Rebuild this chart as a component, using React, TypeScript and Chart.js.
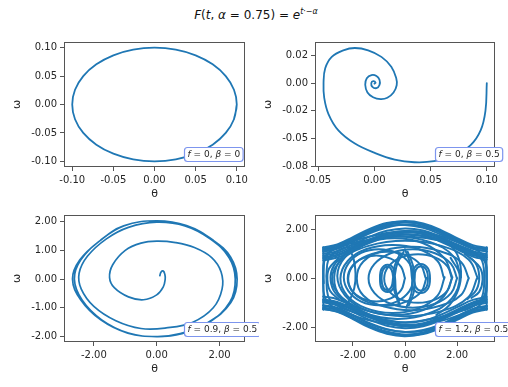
import React, { useEffect, useRef } from "react";
import { Chart, registerables } from "chart.js";

Chart.register(...registerables);

const FONT = '"DejaVu Sans", "Liberation Sans", sans-serif';
const LINE_BLUE = "#1f77b4";
const SPINE = "#555555";
const TEXT = "#262626";
const LABEL_EDGE = "#7d95ee";

// ---------- Panel 1: f = 0, beta = 0 (theta, omega) ----------
const P1_PATH: number[][] = [
  [0.1, 0], [0.0966, -0.0259], [0.0866, -0.05], [0.0707, -0.0707], [0.05, -0.0866], [0.0259, -0.0966],
  [0, -0.1], [-0.0259, -0.0966], [-0.05, -0.0866], [-0.0707, -0.0707], [-0.0866, -0.05], [-0.0966, -0.0259],
  [-0.1, 0], [-0.0966, 0.0259], [-0.0866, 0.05], [-0.0707, 0.0707], [-0.05, 0.0866], [-0.0259, 0.0966],
  [0, 0.1], [0.0259, 0.0966], [0.05, 0.0866], [0.0707, 0.0707], [0.0866, 0.05], [0.0966, 0.0259], [0.1, 0],
  [0.0966, -0.0259],
];
const P1_X_TICKS = [-0.1, -0.05, 0, 0.05, 0.1];
const P1_X_LABELS = ["-0.10", "-0.05", "0.00", "0.05", "0.10"];
const P1_Y_TICKS = [-0.1, -0.05, 0, 0.05, 0.1];
const P1_Y_LABELS = ["-0.10", "-0.05", "0.00", "0.05", "0.10"];

// ---------- Panel 2: f = 0, beta = 0.5 ----------
const P2_PATH: number[][] = [
  [0.1, 0], [0.0988, -0.025], [0.0945, -0.0427], [0.0856, -0.056], [0.0709, -0.0657], [0.053, -0.0705],
  [0.0356, -0.0714], [0.018, -0.069], [0.0003, -0.063], [-0.0174, -0.0546], [-0.0321, -0.0427],
  [-0.0409, -0.028], [-0.0447, -0.0133], [-0.0453, 0], [-0.0438, 0.0133], [-0.038, 0.0236],
  [-0.0277, 0.0295], [-0.0174, 0.0316], [-0.0056, 0.0295], [0.0062, 0.0236], [0.015, 0.0147],
  [0.0194, 0.0044], [0.0198, -0.002], [0.017, -0.0085], [0.0115, -0.0133], [0.0055, -0.0145],
  [-0.0012, -0.0128], [-0.0062, -0.0085], [-0.0082, -0.0015], [-0.0068, 0.0044], [-0.0026, 0.0072],
  [0.0018, 0.0064], [0.0045, 0.003], [0.0045, -0.0018], [0.0018, -0.0046], [-0.0018, -0.0034],
  [-0.0028, 0], [-0.001, 0.0018], [0.001, 0.0004], [0, -0.0006],
];
const P2_X_TICKS = [-0.05, 0, 0.05, 0.1];
const P2_X_LABELS = ["-0.05", "0.00", "0.05", "0.10"];
const P2_Y_TICKS = [-0.075, -0.05, -0.025, 0, 0.025];
const P2_Y_LABELS = ["-0.08", "-0.05", "-0.02", "0.00", "0.02"];

// ---------- Panel 3: f = 0.9, beta = 0.5 ----------
const P3_PATH: number[][] = [
  [0.1, 0.12], [0.14, 0.25], [0.21, 0.28], [0.26, 0.16], [0.27, 0.0], [0.21, -0.27], [0.0, -0.55],
  [-0.42, -0.72], [-0.9, -0.62], [-1.35, -0.3], [-1.5, 0.05], [-1.4, 0.5], [-1.0, 1.0], [-0.5, 1.25],
  [0.0, 1.32], [0.6, 1.27], [1.2, 1.1], [1.75, 0.75], [2.05, 0.25], [2.08, -0.35], [1.8, -1.0],
  [1.15, -1.5], [0.3, -1.7], [-0.5, -1.72], [-1.3, -1.45], [-2.0, -0.95], [-2.4, -0.35], [-2.47, 0.2],
  [-2.2, 0.8], [-1.6, 1.4], [-0.9, 1.8], [0.0, 1.98], [0.9, 1.85], [1.7, 1.4], [2.3, 0.75], [2.5, 0.0],
  [2.33, -0.8], [1.65, -1.52], [0.8, -1.9], [0.0, -2.0], [-0.9, -1.88], [-1.75, -1.42], [-2.38, -0.72],
  [-2.62, 0.0], [-2.42, 0.66], [-1.8, 1.34], [-1.05, 1.85], [0.0, 2.03], [0.95, 1.86], [1.8, 1.35],
  [2.35, 0.77], [2.56, 0.0], [2.36, -0.82], [1.62, -1.52], [0.75, -1.9], [0.0, -2.0], [-0.92, -1.88],
  [-1.78, -1.42], [-2.42, -0.72], [-2.68, 0.0], [-2.45, 0.66], [-1.8, 1.34], [-1.05, 1.85], [0.0, 2.03],
  [0.95, 1.86], [1.8, 1.35], [2.35, 0.77], [2.56, 0.0],
];
const P3_X_TICKS = [-2, 0, 2];
const P3_X_LABELS = ["-2.00", "0.00", "2.00"];
const P3_Y_TICKS = [-2, -1, 0, 1, 2];
const P3_Y_LABELS = ["-2.00", "-1.00", "0.00", "1.00", "2.00"];

// ---------- Panel 4: f = 1.2, beta = 0.5 ----------
const P4_ARC_THETA = [-3.14, -2.6, -2.0, -1.4, -0.7, 0, 0.7, 1.4, 2.0, 2.6, 3.14];
const P4_TOP_1 = [1.25, 1.36, 1.65, 1.97, 2.25, 2.36, 2.26, 1.98, 1.66, 1.37, 1.26];
const P4_TOP_2 = [1.15, 1.28, 1.58, 1.9, 2.15, 2.2, 2.08, 1.8, 1.5, 1.22, 1.12];
const P4_TOP_3 = [1.02, 1.12, 1.4, 1.7, 1.96, 2.06, 1.97, 1.7, 1.4, 1.12, 1.0];
const P4_TOP_4 = [0.82, 0.93, 1.2, 1.5, 1.76, 1.88, 1.86, 1.62, 1.3, 1.0, 0.88];
const P4_TOP_5 = [1.2, 1.31, 1.6, 1.93, 2.2, 2.3, 2.22, 1.94, 1.61, 1.3, 1.19];
const P4_TOP_6 = [0.95, 1.05, 1.32, 1.6, 1.84, 1.95, 1.9, 1.66, 1.36, 1.06, 0.94];
const P4_TOP_7 = [1.1, 1.22, 1.52, 1.84, 2.1, 2.22, 2.14, 1.86, 1.55, 1.24, 1.1];
const P4_TOP_8 = [0.88, 0.98, 1.26, 1.56, 1.82, 1.92, 1.82, 1.55, 1.25, 0.96, 0.86];
const P4_TOP_9 = [1.28, 1.4, 1.7, 2.02, 2.28, 2.33, 2.2, 1.9, 1.58, 1.3, 1.22];
const P4_TOP_10 = [0.75, 0.86, 1.14, 1.45, 1.7, 1.82, 1.76, 1.5, 1.2, 0.9, 0.78];
const P4_BOT_1 = [-1.24, -1.37, -1.67, -2.0, -2.27, -2.37, -2.25, -1.96, -1.63, -1.34, -1.23];
const P4_BOT_2 = [-1.12, -1.24, -1.52, -1.85, -2.1, -2.2, -2.12, -1.88, -1.56, -1.26, -1.15];
const P4_BOT_3 = [-0.98, -1.1, -1.38, -1.68, -1.94, -2.04, -1.96, -1.7, -1.4, -1.12, -1.0];
const P4_BOT_4 = [-0.86, -0.96, -1.24, -1.54, -1.78, -1.9, -1.84, -1.58, -1.28, -0.98, -0.84];
const P4_BOT_5 = [-1.19, -1.3, -1.6, -1.92, -2.18, -2.3, -2.22, -1.96, -1.64, -1.34, -1.22];
const P4_BOT_6 = [-0.93, -1.04, -1.3, -1.58, -1.83, -1.96, -1.88, -1.62, -1.33, -1.05, -0.95];
const P4_BOT_7 = [-1.1, -1.2, -1.5, -1.82, -2.08, -2.2, -2.15, -1.9, -1.58, -1.26, -1.12];
const P4_BOT_8 = [-0.88, -0.99, -1.28, -1.58, -1.84, -1.96, -1.9, -1.64, -1.32, -1.0, -0.88];
const P4_BOT_9 = [-1.26, -1.36, -1.64, -1.96, -2.24, -2.34, -2.28, -2.02, -1.7, -1.4, -1.28];
const P4_BOT_10 = [-0.74, -0.85, -1.14, -1.46, -1.72, -1.82, -1.74, -1.48, -1.18, -0.88, -0.76];

const P4_EYE_1: number[][] = [
  [-3.14, 0], [-3.1, 0.7], [-2.85, 1.12], [-2.2, 1.45], [-1.3, 1.74], [0, 1.94], [1.3, 1.76], [2.2, 1.42],
  [2.85, 1.1], [3.1, 0.7], [3.14, 0], [3.1, -0.7], [2.85, -1.12], [2.2, -1.45], [1.3, -1.76], [0, -1.94],
  [-1.3, -1.74], [-2.2, -1.44], [-2.85, -1.1], [-3.1, -0.7], [-3.14, 0],
];
const P4_EYE_2: number[][] = [
  [-3.02, 0.1], [-2.95, 0.75], [-2.7, 1.08], [-2.1, 1.35], [-1.2, 1.62], [0, 1.8], [1.2, 1.64], [2.1, 1.34],
  [2.7, 1.06], [2.97, 0.7], [3.04, 0], [2.97, -0.72], [2.7, -1.08], [2.1, -1.36], [1.2, -1.62], [0, -1.8],
  [-1.2, -1.6], [-2.1, -1.34], [-2.7, -1.06], [-2.96, -0.7], [-3.02, 0.1],
];
const P4_EYE_3: number[][] = [
  [-3.12, -0.2], [-3.13, 0.5], [-3.0, 1.0], [-2.5, 1.3], [-1.6, 1.55], [-0.4, 1.72], [0.8, 1.66],
  [1.9, 1.38], [2.6, 1.1], [3.05, 0.72], [3.12, 0.1], [3.08, -0.6], [2.85, -1.0], [2.3, -1.3],
];
const P4_LOOP_1: number[][] = [
  [2.15, 0.05], [1.85, 0.92], [0.95, 1.5], [-0.3, 1.73], [-1.55, 1.5], [-2.4, 0.88], [-2.72, 0.05],
  [-2.45, -0.8], [-1.55, -1.42], [-0.3, -1.66], [0.9, -1.44], [1.8, -0.82], [2.1, 0.1], [1.75, 0.85],
];
const P4_LOOP_2: number[][] = [
  [1.5, 0], [1.25, 0.72], [0.5, 1.22], [-0.5, 1.38], [-1.5, 1.2], [-2.2, 0.72], [-2.48, 0], [-2.22, -0.7],
  [-1.5, -1.22], [-0.5, -1.42], [0.5, -1.24], [1.25, -0.7], [1.52, 0.05],
];
const P4_LOOP_3: number[][] = [
  [0.8, 0], [0.6, 0.56], [0.05, 0.96], [-0.7, 1.1], [-1.45, 0.94], [-1.98, 0.55], [-2.18, 0],
  [-2.0, -0.56], [-1.45, -0.96], [-0.7, -1.12], [0.05, -0.95], [0.62, -0.55], [0.82, 0.02],
];
const P4_LOOP_4: number[][] = [
  [2.0, 0], [1.77, 0.6], [1.15, 1.04], [0.3, 1.2], [-0.55, 1.04], [-1.17, 0.6], [-1.4, 0], [-1.17, -0.6],
  [-0.55, -1.04], [0.3, -1.2], [1.15, -1.04], [1.77, -0.6], [2.0, 0.02],
];
const P4_LOOP_5: number[][] = [
  [2.8, 0], [2.44, 0.78], [1.4, 1.34], [0, 1.55], [-1.4, 1.34], [-2.42, 0.78], [-2.8, 0], [-2.42, -0.78],
  [-1.4, -1.34], [0, -1.55], [1.4, -1.34], [2.42, -0.78], [2.78, 0.05],
];
const P4_LOOP_6: number[][] = [
  [0, 0], [-0.15, 0.48], [-0.55, 0.82], [-1.1, 0.95], [-1.65, 0.82], [-2.05, 0.48], [-2.2, 0],
  [-2.05, -0.48], [-1.65, -0.82], [-1.1, -0.95], [-0.55, -0.82], [-0.15, -0.48], [0, 0.02],
];
const P4_LOOP_7: number[][] = [
  [2.45, 0], [2.15, 0.68], [1.35, 1.12], [0.3, 1.3], [-0.8, 1.15], [-1.6, 0.7], [-1.85, 0], [-1.6, -0.7],
  [-0.8, -1.15], [0.3, -1.3], [1.35, -1.12], [2.15, -0.68], [2.45, 0.02],
];
const P4_LOOP_8: number[][] = [
  [1.8, 0.1], [1.5, 0.85], [0.7, 1.45], [-0.4, 1.65], [-1.5, 1.45], [-2.3, 0.88], [-2.6, 0.1], [-2.3, -0.7],
  [-1.5, -1.3], [-0.4, -1.5], [0.7, -1.3], [1.5, -0.72], [1.82, 0.05],
];
const P4_LOOP_9: number[][] = [
  [0.35, 0.05], [0.17, 0.62], [-0.32, 1.05], [-1.0, 1.2], [-1.68, 1.05], [-2.17, 0.62], [-2.35, 0.05],
  [-2.17, -0.52], [-1.68, -0.95], [-1.0, -1.1], [-0.32, -0.95], [0.17, -0.52], [0.35, 0.05],
];
const P4_LOOP_10: number[][] = [
  [1.8, 0], [1.63, 0.5], [1.15, 0.87], [0.5, 1.0], [-0.15, 0.87], [-0.63, 0.5], [-0.8, 0], [-0.63, -0.5],
  [-0.15, -0.87], [0.5, -1.0], [1.15, -0.87], [1.63, -0.5], [1.8, 0.02],
];
const P4_SMALL_L1: number[][] = [
  [-0.2, -1.1], [-0.35, -0.5], [-0.38, 0], [-0.45, 0.42], [-0.67, 0.57], [-0.9, 0.4], [-0.96, 0],
  [-0.9, -0.4], [-0.67, -0.55], [-0.45, -0.4], [-0.4, 0.05], [-0.3, 0.6], [-0.05, 1.1],
];
const P4_SMALL_L2: number[][] = [
  [-0.25, -1.0], [-0.42, -0.45], [-0.45, 0], [-0.52, 0.36], [-0.68, 0.48], [-0.85, 0.34], [-0.9, 0],
  [-0.84, -0.36], [-0.68, -0.47], [-0.52, -0.34], [-0.46, 0.02], [-0.4, 0.5], [-0.2, 1.0],
];
const P4_SMALL_R1: number[][] = [
  [0.0, 1.2], [0.2, 0.6], [0.27, 0], [0.33, -0.42], [0.6, -0.6], [0.88, -0.42], [0.96, 0], [0.88, 0.42],
  [0.6, 0.6], [0.35, 0.42], [0.28, -0.05], [0.25, -0.6], [0.05, -1.2],
];
const P4_SMALL_R2: number[][] = [
  [0.1, 1.1], [0.3, 0.55], [0.36, 0], [0.42, -0.36], [0.62, -0.5], [0.82, -0.36], [0.88, 0], [0.82, 0.36],
  [0.62, 0.5], [0.42, 0.36], [0.37, -0.02], [0.34, -0.55], [0.15, -1.1],
];
const P4_EDGE_R1: number[][] = [[2.3, 1.0], [2.7, 0.65], [2.85, 0.1], [2.75, -0.45], [2.4, -0.85]];
const P4_EDGE_R2: number[][] = [[2.5, 0.85], [2.88, 0.45], [2.98, -0.05], [2.85, -0.55], [2.55, -0.8]];
const P4_EDGE_L1: number[][] = [[-2.35, 0.95], [-2.72, 0.55], [-2.86, 0.05], [-2.74, -0.5], [-2.4, -0.9]];
const P4_EDGE_L2: number[][] = [[-2.55, 0.85], [-2.92, 0.4], [-2.98, -0.05], [-2.88, -0.5], [-2.55, -0.85]];
const P4_CROSS_1: number[][] = [[-2.3, 1.5], [-2.0, 0.9], [-1.9, 0.2], [-1.95, -0.4], [-2.2, -1.0], [-2.6, -1.3]];
const P4_CROSS_2: number[][] = [[1.6, 1.55], [2.0, 1.0], [2.15, 0.3], [2.05, -0.45], [1.7, -1.1], [1.2, -1.5]];
const P4_WALL_L: number[][] = [[-3.14, 1.28], [-3.13, 0.6], [-3.14, -0.1], [-3.13, -0.7], [-3.14, -1.28]];
const P4_WALL_R: number[][] = [[3.14, 1.28], [3.13, 0.6], [3.14, -0.1], [3.13, -0.7], [3.14, -1.28]];

const P4_X_TICKS = [-2, 0, 2];
const P4_X_LABELS = ["-2.00", "0.00", "2.00"];
const P4_Y_TICKS = [-2, 0, 2];
const P4_Y_LABELS = ["-2.00", "0.00", "2.00"];

const LABEL_F = ["0", "0", "0.9", "1.2"];
const LABEL_BETA = ["0", "0.5", "0.5", "0.5"];

// ---------- helpers ----------
const pairs = (list: number[][]) => list.map(([x, y]) => ({ x, y }));
const arc = (ys: number[]) => P4_ARC_THETA.map((x, i) => ({ x, y: ys[i] }));

const Y_AXIS_W = 55;
const X_AXIS_H = 34;
const PAD_T = 8;
const PAD_R = 14;

type PanelSpec = {
  boxLeft: number;
  boxTop: number;
  boxW: number;
  boxH: number;
  xMin: number;
  xMax: number;
  yMin: number;
  yMax: number;
  xTicks: number[];
  xLabels: string[];
  yTicks: number[];
  yLabels: string[];
  f: string;
  beta: string;
  series: { x: number; y: number }[][];
  lw: number;
};

const PANELS: PanelSpec[] = [
  {
    boxLeft: 64, boxTop: 41, boxW: 181, boxH: 126,
    xMin: -0.11, xMax: 0.11, yMin: -0.11, yMax: 0.11,
    xTicks: P1_X_TICKS, xLabels: P1_X_LABELS, yTicks: P1_Y_TICKS, yLabels: P1_Y_LABELS,
    f: LABEL_F[0], beta: LABEL_BETA[0], series: [pairs(P1_PATH)], lw: 1.8,
  },
  {
    boxLeft: 315, boxTop: 41, boxW: 180, boxH: 126,
    xMin: -0.0529, xMax: 0.1073, yMin: -0.0757, yMax: 0.037,
    xTicks: P2_X_TICKS, xLabels: P2_X_LABELS, yTicks: P2_Y_TICKS, yLabels: P2_Y_LABELS,
    f: LABEL_F[1], beta: LABEL_BETA[1], series: [pairs(P2_PATH)], lw: 1.8,
  },
  {
    boxLeft: 64, boxTop: 214, boxW: 181, boxH: 128,
    xMin: -2.95, xMax: 2.81, yMin: -2.19, yMax: 2.23,
    xTicks: P3_X_TICKS, xLabels: P3_X_LABELS, yTicks: P3_Y_TICKS, yLabels: P3_Y_LABELS,
    f: LABEL_F[2], beta: LABEL_BETA[2], series: [pairs(P3_PATH)], lw: 1.7,
  },
  {
    boxLeft: 315, boxTop: 214, boxW: 180, boxH: 128,
    xMin: -3.456, xMax: 3.456, yMin: -2.61, yMax: 2.61,
    xTicks: P4_X_TICKS, xLabels: P4_X_LABELS, yTicks: P4_Y_TICKS, yLabels: P4_Y_LABELS,
    f: LABEL_F[3], beta: LABEL_BETA[3],
    series: [
      arc(P4_TOP_1), arc(P4_TOP_2), arc(P4_TOP_3), arc(P4_TOP_4), arc(P4_TOP_5),
      arc(P4_TOP_6), arc(P4_TOP_7), arc(P4_TOP_8), arc(P4_TOP_9), arc(P4_TOP_10),
      arc(P4_BOT_1), arc(P4_BOT_2), arc(P4_BOT_3), arc(P4_BOT_4), arc(P4_BOT_5),
      arc(P4_BOT_6), arc(P4_BOT_7), arc(P4_BOT_8), arc(P4_BOT_9), arc(P4_BOT_10),
      pairs(P4_EYE_1), pairs(P4_EYE_2), pairs(P4_EYE_3),
      pairs(P4_LOOP_1), pairs(P4_LOOP_2), pairs(P4_LOOP_3), pairs(P4_LOOP_4), pairs(P4_LOOP_5),
      pairs(P4_LOOP_6), pairs(P4_LOOP_7), pairs(P4_LOOP_8), pairs(P4_LOOP_9), pairs(P4_LOOP_10),
      pairs(P4_SMALL_L1), pairs(P4_SMALL_L2), pairs(P4_SMALL_R1), pairs(P4_SMALL_R2),
      pairs(P4_EDGE_R1), pairs(P4_EDGE_R2), pairs(P4_EDGE_L1), pairs(P4_EDGE_L2),
      pairs(P4_CROSS_1), pairs(P4_CROSS_2), pairs(P4_WALL_L), pairs(P4_WALL_R),
    ],
    lw: 2,
  },
];

function makeDecorPlugin(f: string, beta: string) {
  return {
    id: "decor",
    afterDatasetsDraw(chart: any) {
      const { ctx, chartArea } = chart;
      const { left, top, right, bottom } = chartArea;
      ctx.save();
      ctx.strokeStyle = SPINE;
      ctx.lineWidth = 1;
      const l = Math.round(left) + 0.5;
      const t = Math.round(top) + 0.5;
      const r = Math.round(right) - 0.5;
      const b = Math.round(bottom) - 0.5;
      ctx.strokeRect(l, t, r - l, b - t);

      const segs = [
        { t: "f", it: true },
        { t: " = " + f + ", ", it: false },
        { t: "β", it: true },
        { t: " = " + beta, it: false },
      ];
      const size = 9;
      let w = 0;
      for (const s of segs) {
        ctx.font = `${s.it ? "italic " : ""}${size}px ${FONT}`;
        w += ctx.measureText(s.t).width;
      }
      const padX = 3;
      const boxW = w + padX * 2;
      const boxH = 14;
      const bx = Math.round(left + 120) + 0.5;
      const by = Math.round(bottom - 6 - boxH) + 0.5;
      const rad = 3;
      ctx.beginPath();
      ctx.moveTo(bx + rad, by);
      ctx.lineTo(bx + boxW - rad, by);
      ctx.quadraticCurveTo(bx + boxW, by, bx + boxW, by + rad);
      ctx.lineTo(bx + boxW, by + boxH - rad);
      ctx.quadraticCurveTo(bx + boxW, by + boxH, bx + boxW - rad, by + boxH);
      ctx.lineTo(bx + rad, by + boxH);
      ctx.quadraticCurveTo(bx, by + boxH, bx, by + boxH - rad);
      ctx.lineTo(bx, by + rad);
      ctx.quadraticCurveTo(bx, by, bx + rad, by);
      ctx.closePath();
      ctx.fillStyle = "#ffffff";
      ctx.fill();
      ctx.strokeStyle = LABEL_EDGE;
      ctx.lineWidth = 1.2;
      ctx.stroke();

      ctx.fillStyle = TEXT;
      ctx.textBaseline = "middle";
      ctx.textAlign = "left";
      let x = bx + padX;
      const y = by + boxH / 2 + 0.5;
      for (const s of segs) {
        ctx.font = `${s.it ? "italic " : ""}${size}px ${FONT}`;
        ctx.fillText(s.t, x, y);
        x += ctx.measureText(s.t).width;
      }
      ctx.restore();
    },
  };
}

function Panel({ p }: { p: PanelSpec }) {
  const ref = useRef<HTMLCanvasElement>(null);
  const cw = p.boxW + Y_AXIS_W + PAD_R;
  const ch = p.boxH + PAD_T + X_AXIS_H;
  useEffect(() => {
    const canvas = ref.current;
    if (!canvas) return;
    const tickFont = { family: FONT, size: 10 };
    const chart = new Chart(canvas, {
      type: "scatter",
      data: {
        datasets: p.series.map((s) => ({
          data: s,
          showLine: true,
          borderColor: LINE_BLUE,
          backgroundColor: LINE_BLUE,
          borderWidth: p.lw,
          pointRadius: 0,
          pointHoverRadius: 0,
          tension: 0.4,
          fill: false,
        })),
      },
      options: {
        responsive: false,
        maintainAspectRatio: false,
        animation: false,
        events: [],
        elements: { line: { capBezierPoints: false, borderJoinStyle: "round", borderCapStyle: "round" } },
        layout: { padding: { left: 0, top: PAD_T, right: PAD_R, bottom: 0 } },
        plugins: {
          legend: { display: false },
          tooltip: { enabled: false },
          title: { display: false },
        },
        scales: {
          x: {
            type: "linear",
            min: p.xMin,
            max: p.xMax,
            afterBuildTicks: (s: any) => {
              s.ticks = p.xTicks.map((v) => ({ value: v }));
            },
            afterFit: (s: any) => {
              s.height = X_AXIS_H;
            },
            ticks: {
              callback: (_v: any, i: number) => p.xLabels[i],
              font: tickFont,
              color: TEXT,
              padding: 3,
              maxRotation: 0,
              autoSkip: false,
            },
            grid: { drawOnChartArea: false, drawTicks: true, tickLength: 4, color: SPINE, lineWidth: 1 },
            border: { display: false },
            title: {
              display: true,
              text: "θ",
              font: { family: FONT, size: 11 },
              color: TEXT,
              padding: { top: 0, bottom: 0 },
            },
          },
          y: {
            type: "linear",
            min: p.yMin,
            max: p.yMax,
            afterBuildTicks: (s: any) => {
              s.ticks = p.yTicks.map((v) => ({ value: v }));
            },
            afterFit: (s: any) => {
              s.width = Y_AXIS_W;
            },
            ticks: {
              callback: (_v: any, i: number) => p.yLabels[i],
              font: tickFont,
              color: TEXT,
              padding: 3,
              autoSkip: false,
            },
            grid: { drawOnChartArea: false, drawTicks: true, tickLength: 4, color: SPINE, lineWidth: 1 },
            border: { display: false },
            title: {
              display: true,
              text: "ω",
              font: { family: FONT, size: 11 },
              color: TEXT,
              padding: { top: 2, bottom: 0 },
            },
          },
        },
      } as any,
      plugins: [makeDecorPlugin(p.f, p.beta)],
    });
    return () => chart.destroy();
  }, []);
  return (
    <canvas
      ref={ref}
      width={cw}
      height={ch}
      style={{
        position: "absolute",
        left: p.boxLeft - Y_AXIS_W,
        top: p.boxTop - PAD_T,
        width: cw,
        height: ch,
      }}
    />
  );
}

export default function App() {
  return (
    <div
      style={{
        position: "fixed",
        left: 0,
        top: 0,
        width: 508,
        height: 387,
        overflow: "hidden",
        background: "#ffffff",
      }}
    >
      <div
        style={{
          position: "absolute",
          left: 0,
          top: 7,
          width: 512,
          textAlign: "center",
          fontFamily: FONT,
          fontSize: 12,
          lineHeight: "16px",
          color: "#111",
          whiteSpace: "nowrap",
        }}
      >
        <i>F</i>(<i>t</i>, <i>α</i> = 0.75) = <i>e</i>
        <span style={{ position: "relative", top: -5, fontSize: 8 }}>
          <i>t</i>·−<i>α</i>
        </span>
      </div>
      {PANELS.map((p, i) => (
        <Panel key={i} p={p} />
      ))}
    </div>
  );
}
